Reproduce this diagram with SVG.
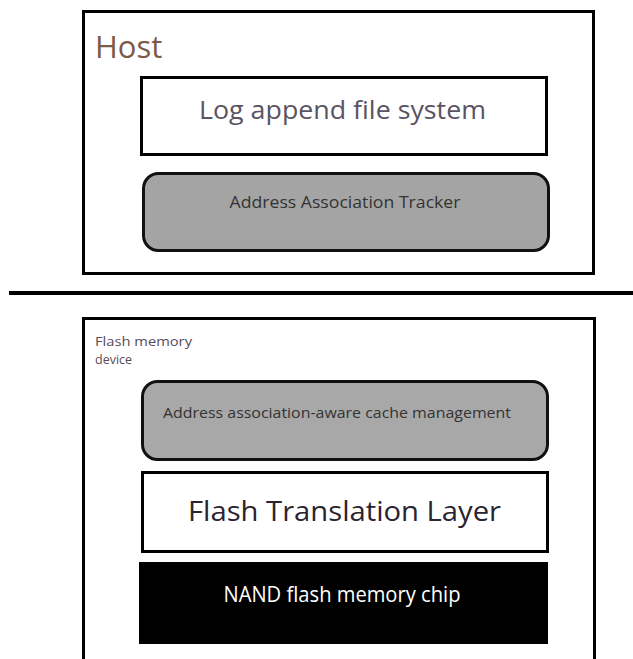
<svg xmlns="http://www.w3.org/2000/svg" width="633" height="659" viewBox="0 0 633 659">
  <style>
    text { font-family: "Open Sans", "Noto Sans", "Liberation Sans", sans-serif; }
    .frame { fill: #ffffff; stroke: #000000; stroke-width: 3; }
    .box { fill: #ffffff; stroke: #000000; stroke-width: 3; }
    .gray { fill: #a4a4a4; stroke: #111111; stroke-width: 3; }
    .dark { fill: #333333; }
  </style>
  <rect x="0" y="0" width="633" height="659" fill="#ffffff"/>

  <g id="host">
    <rect class="frame" x="83.5" y="11.5" width="510" height="262"/>
    <text x="95" y="58" font-size="31" fill="#7b5a48">Host</text>
  </g>

  <g id="log-append-fs">
    <rect class="box" x="141.5" y="77.5" width="405" height="77"/>
    <text x="342.5" y="119" font-size="26" fill="#5a5363" text-anchor="middle" textLength="287" lengthAdjust="spacingAndGlyphs">Log append file system</text>
  </g>

  <g id="address-association-tracker">
    <rect class="gray" x="143.5" y="173.5" width="405" height="77" rx="15"/>
    <text x="345" y="208" font-size="15.5" class="dark" text-anchor="middle" textLength="231" lengthAdjust="spacingAndGlyphs">Address Association Tracker</text>
  </g>

  <g id="connectors">
    <line x1="9" y1="293" x2="633" y2="293" stroke="#000000" stroke-width="4"/>
  </g>

  <g id="flash-memory-device">
    <rect class="frame" x="83.5" y="318.5" width="511" height="350"/>
    <text x="95" y="346" font-size="12.5" fill="#5a4a5a" textLength="97" lengthAdjust="spacingAndGlyphs">Flash memory</text>
    <text x="95" y="364" font-size="12.5" fill="#5a4a5a">device</text>
  </g>

  <g id="cache-management">
    <rect class="gray" x="142.5" y="381.5" width="405" height="78" rx="15" style="fill:#a8a8a8"/>
    <text x="337" y="418" font-size="14.5" class="dark" text-anchor="middle" textLength="348" lengthAdjust="spacingAndGlyphs">Address association-aware cache management</text>
  </g>

  <g id="flash-translation-layer">
    <rect class="box" x="142.5" y="472.5" width="405" height="79"/>
    <text x="344.5" y="521" font-size="28" fill="#2a2430" text-anchor="middle" textLength="313" lengthAdjust="spacingAndGlyphs">Flash Translation Layer</text>
  </g>

  <g id="nand-flash-chip">
    <rect x="139" y="562" width="409" height="82" fill="#000000"/>
    <text x="342" y="602" font-size="21" fill="#ffffff" text-anchor="middle" textLength="237" lengthAdjust="spacingAndGlyphs">NAND flash memory chip</text>
  </g>
</svg>
